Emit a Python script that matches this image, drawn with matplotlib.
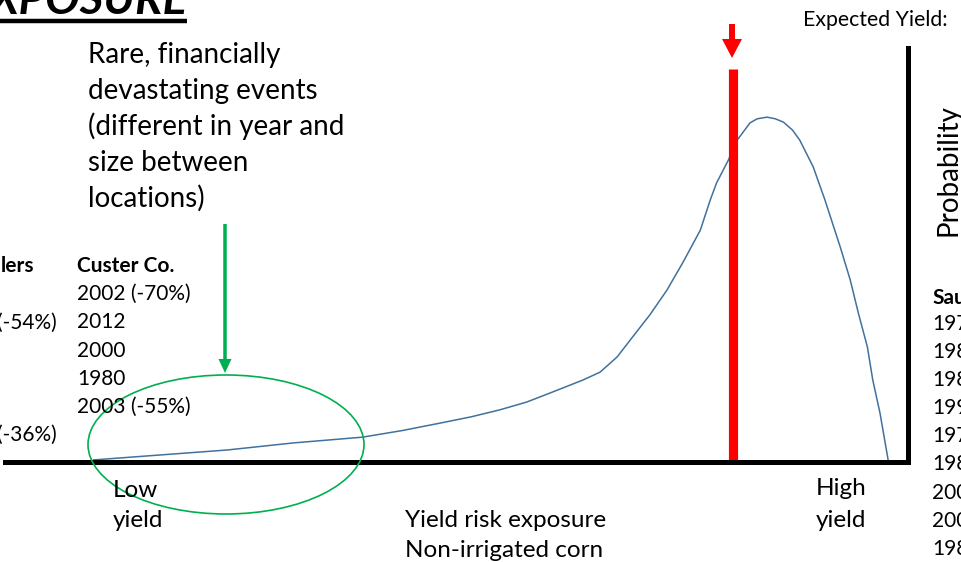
import matplotlib
matplotlib.use('Agg')
import matplotlib.pyplot as plt
from matplotlib.patches import Ellipse, FancyArrow

plt.rcParams['font.family'] = ['Lato', 'DejaVu Sans']

# yield distribution, relative yield (0-100) vs probability (0-100)
yield_pts = [9.8, 17.2, 24.6, 31.9, 39.6, 44.0, 48.2, 51.6, 54.8, 57.8, 60.4,
             64.0, 65.9, 67.8, 69.5, 71.4, 73.3, 75.1, 77.0, 78.1, 78.8, 80.1,
             81.1, 82.5, 83.3, 84.4, 85.3, 86.2, 87.2, 88.0, 89.5, 90.8, 92.5,
             93.6, 94.5, 95.5, 96.1, 96.9, 97.8]
prob_pts = [0.5, 1.7, 2.9, 4.6, 6.0, 7.6, 9.4, 10.9, 12.6, 14.5, 16.7,
            19.8, 21.7, 25.4, 30.2, 35.5, 41.5, 48.3, 56.0, 63.3, 67.4, 72.9,
            77.8, 81.9, 82.9, 83.3, 82.9, 82.1, 80.2, 77.8, 71.3, 63.3, 51.9,
            44.0, 36.0, 27.8, 19.8, 11.8, 0.5]
expected_yield = 80.6
expected_top = 94.9

custer_header = "Custer Co."
custer_years = ["2002 (-70%)", "2012", "2000", "1980", "2003 (-55%)"]
left_header = "lers"
left_years = ["(-54%)", "(-36%)"]
right_header = "Sau"
right_years = ["197", "198", "198", "199", "197", "198", "200", "200", "198"]
note_lines = ["Rare, financially", "devastating events",
              "(different in year and", "size between", "locations)"]

W, H = 961, 562
fig = plt.figure(figsize=(W / 100, H / 100), dpi=100)

# main chart axes
ax = fig.add_axes([5 / W, 1 - 462 / H, 903 / W, 414 / H])
ax.plot(yield_pts, prob_pts, color='#41719C', lw=1.1, solid_joinstyle='round')
ax.vlines(expected_yield, 0, expected_top, color='#FF0000', lw=6.6)
ax.set_xlim(0, 100)
ax.set_ylim(0, 100)
ax.set_xticks([])
ax.set_yticks([])
for s in ['top', 'left']:
    ax.spines[s].set_visible(False)
for s in ['bottom', 'right']:
    ax.spines[s].set_linewidth(3.6)
    ax.spines[s].set_capstyle('projecting')
ax.patch.set_alpha(0)

# overlay in pixel units for notes
ov = fig.add_axes([0, 0, 1, 1], zorder=3)
ov.set_xlim(0, W)
ov.set_ylim(H, 0)
ov.axis('off')
ov.patch.set_alpha(0)

# title
ov.text(187, 14, "EXPOSURE", fontsize=33, fontweight='bold', fontstyle='italic',
        ha='right', va='baseline')
ov.plot([0, 187], [20.5, 20.5], color='black', lw=3.2, solid_capstyle='butt')

# note text
for i, line in enumerate(note_lines):
    ov.text(88, 63 + 36 * i, line, fontsize=20, va='baseline')

# green arrow and ellipse
ov.add_patch(FancyArrow(225, 224, 0, 149, width=3.5, head_width=13,
                        head_length=14, length_includes_head=True,
                        color='#00B050', lw=0))
ov.add_patch(Ellipse((226, 444.5), 276, 139, fill=False, ec='#00B050', lw=1.2))

# red arrow over expected yield
ov.add_patch(FancyArrow(732, 24, 0, 34, width=6, head_width=20,
                        head_length=19, length_includes_head=True,
                        color='#FF0000', lw=0))

# county columns
fs_col = 15
ov.text(77, 272, custer_header, fontsize=fs_col, fontweight='bold', va='baseline')
for i, yr in enumerate(custer_years):
    ov.text(77, 300 + 28.3 * i, yr, fontsize=fs_col, va='baseline')
ov.text(1, 272, left_header, fontsize=fs_col, fontweight='bold', va='baseline')
ov.text(57, 329, left_years[0], fontsize=fs_col, va='baseline', ha='right')
ov.text(57, 441, left_years[1], fontsize=fs_col, va='baseline', ha='right')
ov.text(932, 304, right_header, fontsize=fs_col, fontweight='bold', va='baseline')
for i, yr in enumerate(right_years):
    ov.text(932, 330 + 28.1 * i, yr, fontsize=fs_col, va='baseline')

ov.text(803, 26, "Expected Yield:", fontsize=15.3, va='baseline')
ov.text(948, 170, "Probability", fontsize=20, rotation=90, ha='center', va='center')

# axis end labels
fs_lab = 17.5
ov.text(113, 497, "Low", fontsize=fs_lab, va='baseline')
ov.text(113, 527, "yield", fontsize=fs_lab, va='baseline')
ov.text(816, 495, "High", fontsize=fs_lab, va='baseline')
ov.text(816, 527, "yield", fontsize=fs_lab, va='baseline')
ov.text(405, 527, "Yield risk exposure", fontsize=fs_lab, va='baseline')
ov.text(405, 557, "Non-irrigated corn", fontsize=fs_lab, va='baseline')

fig.savefig('out.png', dpi=100)
